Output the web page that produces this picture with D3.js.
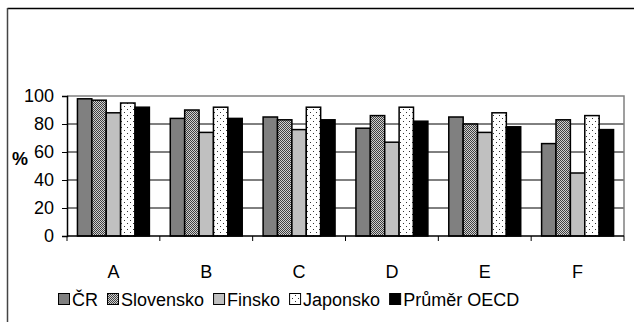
<!DOCTYPE html>
<html><head><meta charset="utf-8">
<script src="https://cdn.jsdelivr.net/npm/d3@7"></script>
<style>html,body{margin:0;padding:0;background:#fff;}svg{display:block;font-family:Arial,"Liberation Sans",sans-serif;}</style>
</head><body>
<svg id="c" width="634" height="322"></svg>
<script>
const categories = ["A","B","C","D","E","F"];
const seriesNames = ["ČR","Slovensko","Finsko","Japonsko","Průměr OECD"];
const cr        = [98, 84, 85, 77, 85, 66];
const slovensko = [97, 90, 83, 86, 80, 83];
const finsko    = [88, 74, 76, 67, 74, 45];
const japonsko  = [95, 92, 92, 92, 88, 86];
const oecd      = [92, 84, 83, 82, 78, 76];
const yTicks = [0, 20, 40, 60, 80, 100];
const seriesValues = [cr, slovensko, finsko, japonsko, oecd];

const FS = 18;
const svg = d3.select("#c");
const defs = svg.append("defs");
const p1 = defs.append("pattern").attr("id","chk").attr("width",2).attr("height",2).attr("patternUnits","userSpaceOnUse");
p1.append("rect").attr("width",2).attr("height",2).attr("fill","#d0d0d0");
p1.append("rect").attr("width",1).attr("height",1).attr("fill","#404040");
p1.append("rect").attr("x",1).attr("y",1).attr("width",1).attr("height",1).attr("fill","#404040");
const p2 = defs.append("pattern").attr("id","dots").attr("width",6).attr("height",6).attr("patternUnits","userSpaceOnUse");
p2.append("rect").attr("width",6).attr("height",6).attr("fill","#fff");
p2.append("rect").attr("x",1).attr("y",1).attr("width",1).attr("height",1).attr("fill","#333");
p2.append("rect").attr("x",4).attr("y",4).attr("width",1).attr("height",1).attr("fill","#333");

const fills = ["#808080","url(#chk)","#c0c0c0","url(#dots)","#000"];

svg.append("line").attr("x1",7.5).attr("x2",634).attr("y1",8.5).attr("y2",8.5).attr("stroke","#000").attr("stroke-width",1.5);
svg.append("line").attr("x1",7.5).attr("x2",7.5).attr("y1",8).attr("y2",322).attr("stroke","#444").attr("stroke-width",1.5);

const L = 67, R = 624, T = 96, B = 236;
const x = d3.scaleBand().domain(categories).range([L, R]).paddingInner(0).paddingOuter(0);
const y = d3.scaleLinear().domain([0, 100]).range([B, T]);
const gap = 0.225;
const x1 = d3.scaleBand().domain(seriesNames).range([x.bandwidth()*gap/2, x.bandwidth()*(1-gap/2)]);

svg.append("g").selectAll("line").data(yTicks.filter(d=>d>0 && d<100)).join("line")
  .attr("x1",L).attr("x2",R).attr("y1",d=>y(d)).attr("y2",d=>y(d)).attr("stroke","#000").attr("stroke-width",1);
svg.append("path").attr("d",`M${L},${T}H${R}V${B}`).attr("fill","none").attr("stroke","#808080").attr("stroke-width",1.5);

const g = svg.append("g");
categories.forEach((c, ci) => {
  seriesNames.forEach((s, si) => {
    const v = seriesValues[si][ci];
    g.append("rect")
      .attr("x", x(c) + x1(s))
      .attr("y", y(v))
      .attr("width", x1.bandwidth())
      .attr("height", y(0) - y(v))
      .attr("fill", fills[si])
      .attr("stroke", "#000").attr("stroke-width", 1.5);
  });
});

const ya = svg.append("g").attr("transform",`translate(${L},0)`)
  .call(d3.axisLeft(y).tickValues(yTicks).tickSize(5).tickPadding(8));
ya.select(".domain").attr("stroke","#000").attr("stroke-width",1.5);
ya.selectAll("line").attr("stroke","#000");
ya.selectAll("text").attr("font-size",FS).attr("fill","#000").attr("font-family","Arial, 'Liberation Sans', sans-serif");

svg.append("line").attr("x1",L).attr("x2",R).attr("y1",B).attr("y2",B).attr("stroke","#000").attr("stroke-width",1.5);
const bounds = categories.map(c => x(c)).concat([R]);
svg.append("g").selectAll("line").data(bounds).join("line")
  .attr("x1",d=>d).attr("x2",d=>d).attr("y1",B).attr("y2",B+5).attr("stroke","#000");
svg.append("g").selectAll("text").data(categories).join("text")
  .attr("x",d=>x(d)+x.bandwidth()/2).attr("y",278).attr("text-anchor","middle")
  .attr("font-size",FS).text(d=>d);

svg.append("text").attr("x",12).attr("y",165).attr("font-size",FS).attr("font-weight","bold").text("%");

const lg = svg.append("g");
let lx = 58;
seriesNames.forEach((s, i) => {
  lg.append("rect").attr("x",lx+0.5).attr("y",293.5).attr("width",11).attr("height",11)
    .attr("fill",fills[i]).attr("stroke","#000").attr("stroke-width",1);
  const t = lg.append("text").attr("x",lx+14).attr("y",306).attr("font-size",FS).text(s);
  lx += 14 + t.node().getComputedTextLength() + 9;
});
</script>
</body></html>
